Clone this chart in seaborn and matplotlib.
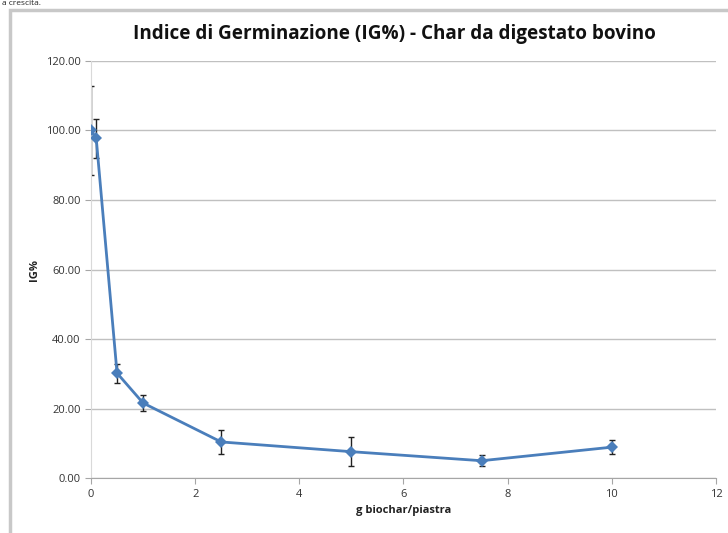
import matplotlib
matplotlib.use("Agg")
import matplotlib.pyplot as plt
import seaborn as sns
import pandas as pd
from matplotlib.patches import Rectangle

# DATA
dose = [0, 0.1, 0.5, 1, 2.5, 5, 7.5, 10]
ig = [100.0, 97.8, 30.2, 21.6, 10.4, 7.6, 5.0, 8.9]
err = [12.7, 5.6, 2.7, 2.3, 3.4, 4.1, 1.6, 2.0]

df = pd.DataFrame({"dose": dose, "ig": ig, "err": err})

sns.set_style("white")
plt.rcParams["font.family"] = ["Open Sans", "DejaVu Sans"]

fig = plt.figure(figsize=(7.28, 5.33), dpi=100)

# chart frame (excel style border)
fig.patches.append(Rectangle((10 / 728, -0.1), 1.2, 1.1 - 10 / 533,
                             transform=fig.transFigure, fill=False,
                             edgecolor="#c8c8c8", linewidth=2.5))
# caption text above the chart
fig.text(0.003, 0.9995, "a crescita.", fontsize=6, va="top", ha="left",
         color="#222222")

ax = fig.add_axes([0.125, 0.103, 0.8585, 0.7826])

ax.errorbar(df["dose"], df["ig"], yerr=df["err"], fmt="none",
            ecolor="#222222", elinewidth=1.0, capsize=2.5, capthick=1.0,
            zorder=2)
sns.lineplot(data=df, x="dose", y="ig", ax=ax, color="#4a7ebb",
             linewidth=2.0, marker="D", markersize=6.5, markeredgewidth=0,
             zorder=3)

ax.set_xlim(0, 12)
ax.set_ylim(0, 120)
ax.set_xticks(range(0, 13, 2))
ax.set_yticks(range(0, 121, 20))
ax.set_yticklabels([f"{v:.2f}" for v in range(0, 121, 20)])
ax.grid(axis="y", color="#c0c0c0", linewidth=1)
ax.set_axisbelow(True)
for s in ["top", "right"]:
    ax.spines[s].set_visible(False)
ax.spines["left"].set_color("#d9d9d9")
ax.spines["bottom"].set_color("#a6a6a6")
ax.tick_params(axis="x", bottom=True, length=4, color="#a6a6a6",
               labelsize=8, labelcolor="#333333")
ax.tick_params(axis="y", left=True, length=4, color="#a6a6a6",
               labelsize=8, labelcolor="#333333")

ax.set_xlabel("g biochar/piastra", fontsize=8, fontweight="bold",
              color="#222222")
ax.set_ylabel("IG%", fontsize=8, fontweight="bold", color="#222222")
ax.set_title("Indice di Germinazione (IG%) - Char da digestato bovino",
             fontsize=13.6, fontweight="bold", color="#111111", pad=16,
             x=0.486)

fig.savefig("out.png", dpi=100)
